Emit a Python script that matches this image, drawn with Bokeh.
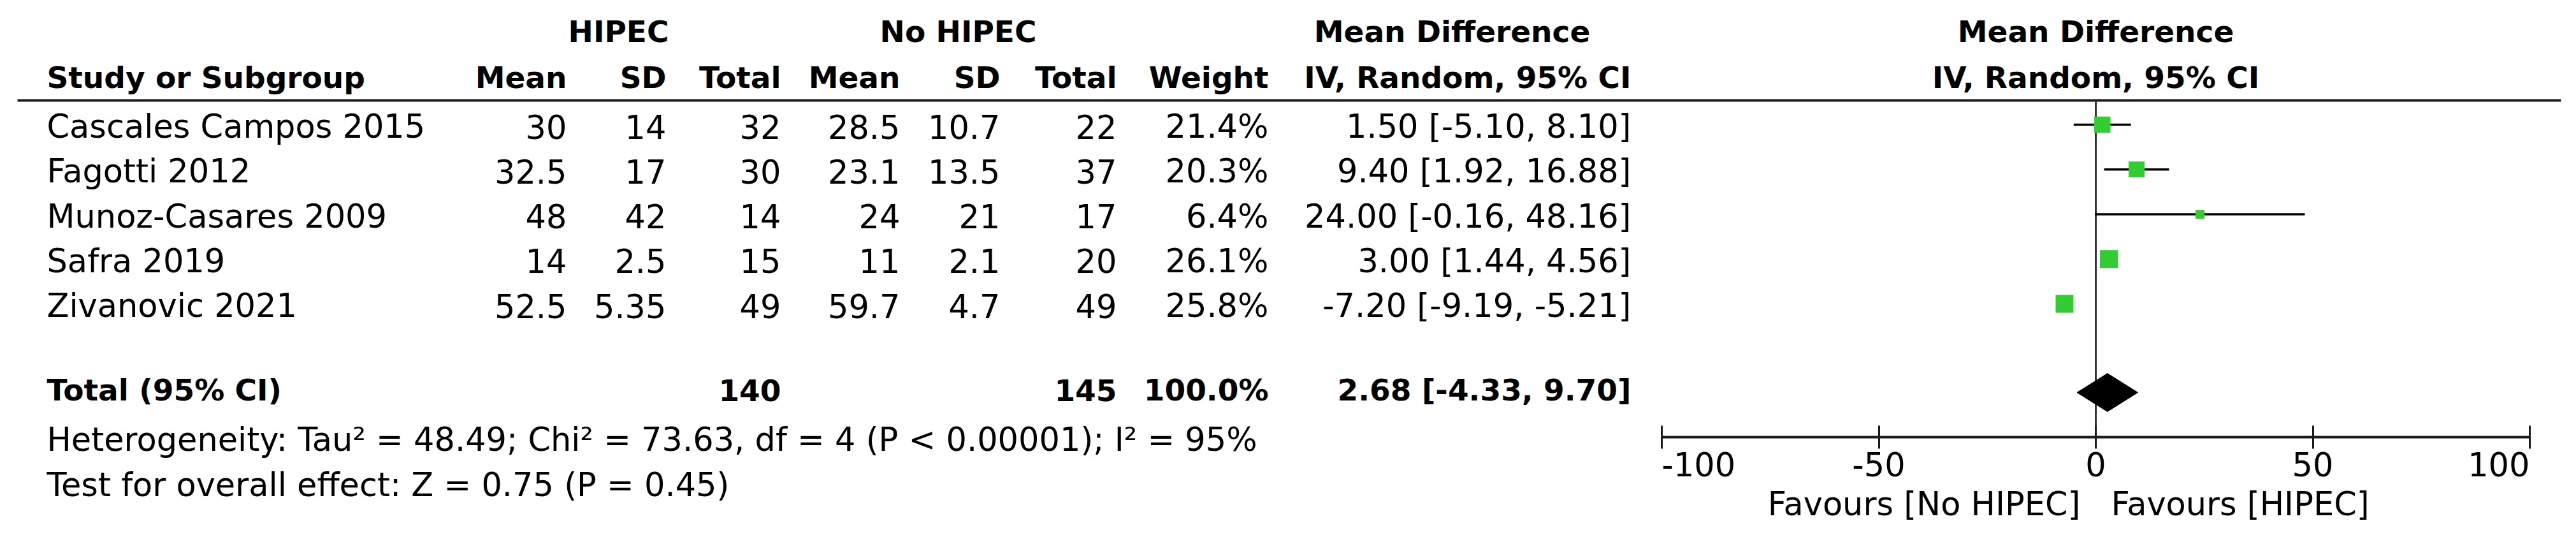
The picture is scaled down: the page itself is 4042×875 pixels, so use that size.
from bokeh.plotting import figure
from bokeh.models import Range1d, LinearAxis, FixedTicker, ColumnDataSource
from bokeh.core.properties import value
from bokeh.embed import file_html
from bokeh.resources import INLINE

# ---------------- data ----------------
studies = ["Cascales Campos 2015", "Fagotti 2012", "Munoz-Casares 2009", "Safra 2019", "Zivanovic 2021"]
hipec_mean = [30, 32.5, 48, 14, 52.5]
hipec_sd = [14, 17, 42, 2.5, 5.35]
hipec_n = [32, 30, 14, 15, 49]
nohipec_mean = [28.5, 23.1, 24, 11, 59.7]
nohipec_sd = [10.7, 13.5, 21, 2.1, 4.7]
nohipec_n = [22, 37, 17, 20, 49]
weights = [21.4, 20.3, 6.4, 26.1, 25.8]
md = [1.50, 9.40, 24.00, 3.00, -7.20]
ci_low = [-5.10, 1.92, -0.16, 1.44, -9.19]
ci_high = [8.10, 16.88, 48.16, 4.56, -5.21]

total_hipec_n = 140
total_nohipec_n = 145
total_weight = 100.0
total_md = 2.68
total_low = -4.33
total_high = 9.70

heterogeneity = "Heterogeneity: Tau\u00b2 = 48.49; Chi\u00b2 = 73.63, df = 4 (P < 0.00001); I\u00b2 = 95%"
overall = "Test for overall effect: Z = 0.75 (P = 0.45)"
x_ticks = [-100, -50, 0, 50, 100]
x_tick_labels = ["-100", "-50", "0", "50", "100"]
favours_left = "Favours [No HIPEC]"
favours_right = "Favours [HIPEC]"

# ---------------- layout constants (pixels) ----------------
W, H = 4026, 859
ZERO_PX = 3288
PX_PER_UNIT = 6.81
FONT = "DejaVu Sans"
REG = "51px"
BOLD = "47px"
ROW0, ROW_STEP, MARK_OFF = 198, 70.25, -3
H1, H2, HEAD_LINE = 49, 121, 157
TOTAL_TXT, TOTAL_Y = 611, 615
HET_Y, TEST_Y, FAV_Y = 689, 760, 790
AXIS_Y = 685
TICK_LABEL_Y = 727

p = figure(width=W, height=H, output_backend="svg", toolbar_location=None,
           x_range=Range1d(-ZERO_PX / PX_PER_UNIT, (W - ZERO_PX) / PX_PER_UNIT),
           y_range=Range1d(H, 0),
           x_axis_location=None, y_axis_location=None,
           min_border_left=0, min_border_right=0, min_border_top=0, min_border_bottom=0)
p.extra_x_ranges = {"tab": Range1d(0, W)}
p.grid.visible = False
p.outline_line_color = None
p.background_fill_color = "white"
p.border_fill_color = "white"

row_txt = [ROW0 + ROW_STEP * i for i in range(len(studies))]
row_y = [y + MARK_OFF for y in row_txt]


def fmt(v):
    return f"{v:g}"


def col_text(x, texts, ys, align="right", bold=False):
    src = ColumnDataSource(dict(x=[x] * len(texts), y=ys, t=texts))
    p.text(x="x", y="y", text="t", source=src, x_range_name="tab",
           text_align=align, text_baseline="middle",
           text_font=value(FONT), text_font_size=BOLD if bold else REG,
           text_font_style="bold" if bold else "normal", text_color="black")


def plot_text(xs, ys, texts, align="center", bold=False, x_offset=0):
    p.text(x=xs, y=ys, text=texts, x_offset=x_offset, text_align=align,
           text_baseline="middle", text_font=value(FONT),
           text_font_size=BOLD if bold else REG,
           text_font_style="bold" if bold else "normal", text_color="black")


# header row 1
col_text(970, ["HIPEC"], [H1], "center", True)
col_text(1503, ["No HIPEC"], [H1], "center", True)
col_text(2278, ["Mean Difference"], [H1], "center", True)
# header row 2
col_text(73, ["Study or Subgroup"], [H2], "left", True)
col_text(889, ["Mean"], [H2], "right", True)
col_text(1045, ["SD"], [H2], "right", True)
col_text(1225, ["Total"], [H2], "right", True)
col_text(1412, ["Mean"], [H2], "right", True)
col_text(1569, ["SD"], [H2], "right", True)
col_text(1752, ["Total"], [H2], "right", True)
col_text(1990, ["Weight"], [H2], "right", True)
col_text(2559, ["IV, Random, 95% CI"], [H2], "right", True)

# plot headers centred on zero
plot_text([0], [H1], ["Mean Difference"], "center", True)
plot_text([0], [H2], ["IV, Random, 95% CI"], "center", True)

# header line
p.segment(x0=[27], x1=[4018], y0=[HEAD_LINE], y1=[HEAD_LINE], x_range_name="tab",
          line_color="#1a1a1a", line_width=4)

# study rows
col_text(73, studies, row_txt, "left")
col_text(889, [fmt(v) for v in hipec_mean], row_txt)
col_text(1045, [fmt(v) for v in hipec_sd], row_txt)
col_text(1225, [fmt(v) for v in hipec_n], row_txt)
col_text(1412, [fmt(v) for v in nohipec_mean], row_txt)
col_text(1569, [fmt(v) for v in nohipec_sd], row_txt)
col_text(1752, [fmt(v) for v in nohipec_n], row_txt)
col_text(1990, [f"{w:.1f}%" for w in weights], row_txt)
col_text(2559, [f"{m:.2f} [{l:.2f}, {h:.2f}]" for m, l, h in zip(md, ci_low, ci_high)], row_txt)

# total row
col_text(73, ["Total (95% CI)"], [TOTAL_TXT], "left", True)
col_text(1225, [str(total_hipec_n)], [TOTAL_TXT], "right", True)
col_text(1752, [str(total_nohipec_n)], [TOTAL_TXT], "right", True)
col_text(1990, [f"{total_weight:.1f}%"], [TOTAL_TXT], "right", True)
col_text(2559, [f"{total_md:.2f} [{total_low:.2f}, {total_high:.2f}]"], [TOTAL_TXT], "right", True)

# footer texts
col_text(73, [heterogeneity], [HET_Y], "left")
col_text(73, [overall], [TEST_Y], "left")
plot_text([0], [FAV_Y], [favours_left], "right", x_offset=-24)
plot_text([0], [FAV_Y], [favours_right], "left", x_offset=24)

# zero line
p.segment(x0=[0], x1=[0], y0=[HEAD_LINE], y1=[AXIS_Y], line_color="#333333", line_width=3)

# CI lines and squares
p.segment(x0=ci_low, x1=ci_high, y0=row_y, y1=row_y, line_color="black", line_width=3.5)
sizes = [5.5 * (w ** 0.5) for w in weights]
p.scatter(x=md, y=row_y, size=sizes, marker="square", fill_color="#33cc33",
          line_color="#33cc33", line_width=0)

# diamond
p.patch(x=[total_low, total_md, total_high, total_md],
        y=[TOTAL_Y, TOTAL_Y - 30, TOTAL_Y, TOTAL_Y + 30],
        fill_color="black", line_color="black", line_width=1)

# axis: line and ticks from Bokeh; labels aligned RevMan-style (ends inward)
ax = LinearAxis(ticker=FixedTicker(ticks=x_ticks), bounds=(x_ticks[0], x_ticks[-1]),
                fixed_location=AXIS_Y)
ax.major_label_overrides = {t: "" for t in x_ticks}
ax.axis_line_width = 4
ax.axis_line_color = "#1a1a1a"
ax.major_tick_line_width = 3
ax.major_tick_line_color = "#1a1a1a"
ax.major_tick_in = 18
ax.major_tick_out = 18
ax.minor_tick_line_color = None
p.add_layout(ax, "below")

plot_text([x_ticks[0]], [TICK_LABEL_Y], [x_tick_labels[0]], "left")
plot_text(x_ticks[1:-1], [TICK_LABEL_Y] * (len(x_ticks) - 2), x_tick_labels[1:-1], "center")
plot_text([x_ticks[-1]], [TICK_LABEL_Y], [x_tick_labels[-1]], "right")

open("out.html", "w").write(file_html(p, INLINE))
